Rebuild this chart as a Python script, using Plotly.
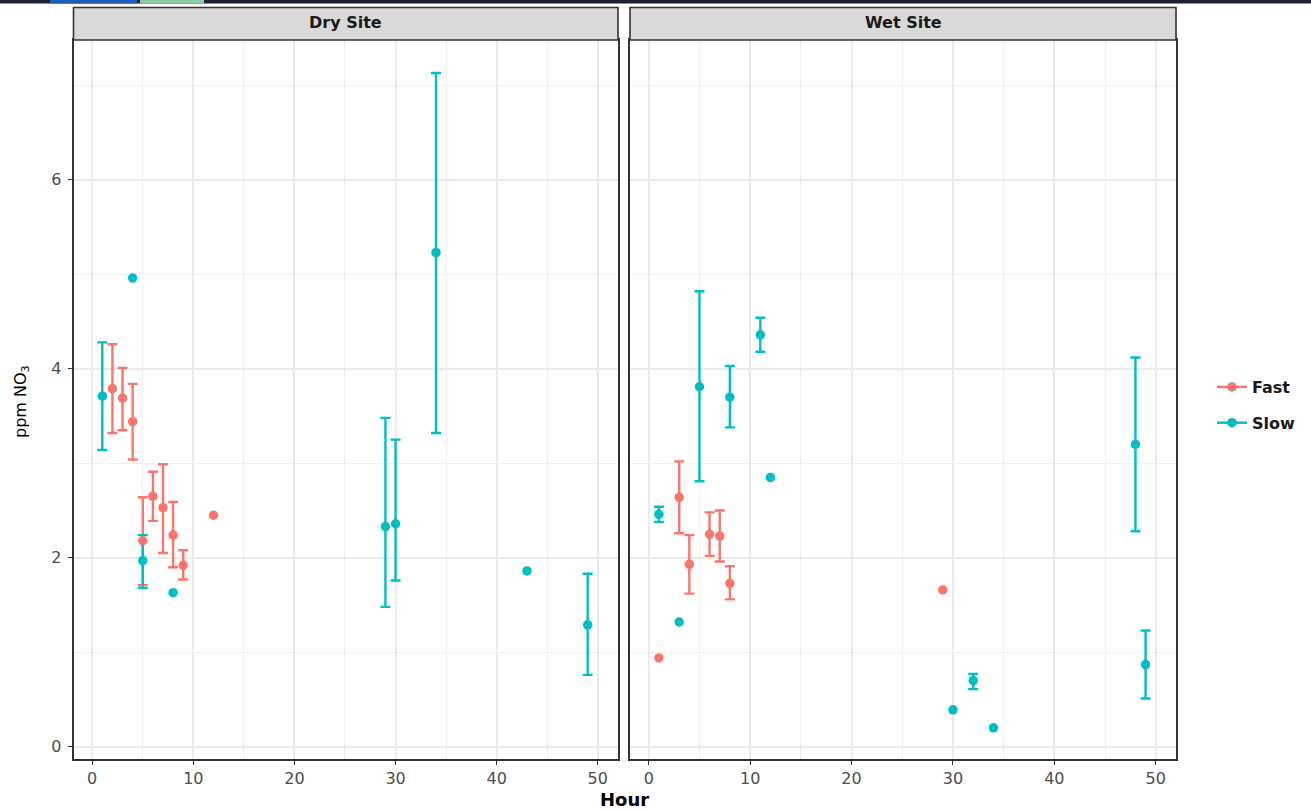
import plotly.graph_objects as go

# ---------------- data ----------------
dry_fast_hour = [2, 3, 4, 5, 6, 7, 8, 9, 12]
dry_fast_mean = [3.79, 3.69, 3.44, 2.18, 2.65, 2.53, 2.24, 1.92, 2.45]
dry_fast_upper = [4.26, 4.01, 3.84, 2.64, 2.91, 2.99, 2.59, 2.08, None]
dry_fast_lower = [3.32, 3.35, 3.04, 1.71, 2.39, 2.05, 1.90, 1.77, None]

dry_slow_hour = [1, 4, 5, 8, 29, 30, 34, 43, 49]
dry_slow_mean = [3.71, 4.96, 1.97, 1.63, 2.33, 2.36, 5.23, 1.86, 1.29]
dry_slow_upper = [4.28, None, 2.24, None, 3.48, 3.25, 7.13, None, 1.83]
dry_slow_lower = [3.14, None, 1.68, None, 1.48, 1.76, 3.32, None, 0.76]

wet_fast_hour = [1, 3, 4, 6, 7, 8, 29]
wet_fast_mean = [0.94, 2.64, 1.93, 2.25, 2.23, 1.73, 1.66]
wet_fast_upper = [None, 3.02, 2.24, 2.48, 2.50, 1.91, None]
wet_fast_lower = [None, 2.26, 1.62, 2.02, 1.96, 1.56, None]

wet_slow_hour = [1, 3, 5, 8, 11, 12, 30, 32, 34, 48, 49]
wet_slow_mean = [2.46, 1.32, 3.81, 3.70, 4.36, 2.85, 0.39, 0.70, 0.20, 3.20, 0.87]
wet_slow_upper = [2.54, None, 4.82, 4.03, 4.54, None, None, 0.77, None, 4.12, 1.23]
wet_slow_lower = [2.38, None, 2.81, 3.38, 4.18, None, None, 0.61, None, 2.28, 0.51]

panels = ["Dry Site", "Wet Site"]
series_names = ["Fast", "Slow"]
x_ticks = [0, 10, 20, 30, 40, 50]
y_ticks = [0, 2, 4, 6]

colors = {"Fast": "#F8766D", "Slow": "#00BFC4"}

data = {
    ("Dry Site", "Fast"): (dry_fast_hour, dry_fast_mean, dry_fast_upper, dry_fast_lower),
    ("Dry Site", "Slow"): (dry_slow_hour, dry_slow_mean, dry_slow_upper, dry_slow_lower),
    ("Wet Site", "Fast"): (wet_fast_hour, wet_fast_mean, wet_fast_upper, wet_fast_lower),
    ("Wet Site", "Slow"): (wet_slow_hour, wet_slow_mean, wet_slow_upper, wet_slow_lower),
}

W, H = 1311, 811
FONT = "DejaVu Sans"


def px(x):
    return x / W


def py(y):
    return 1 - y / H


fig = go.Figure()

for pi, panel in enumerate(panels):
    xa = "x" if pi == 0 else "x2"
    ya = "y" if pi == 0 else "y2"
    for s in series_names:
        hr, mn, up, lo = data[(panel, s)]
        ex, ey, eu, el = [], [], [], []
        for h, m, u, l in zip(hr, mn, up, lo):
            if u is not None and l is not None:
                ex.append(h); ey.append(m); eu.append(u - m); el.append(m - l)
        fig.add_trace(go.Scatter(
            x=ex, y=ey, xaxis=xa, yaxis=ya, mode="markers",
            marker=dict(size=2, opacity=0, color=colors[s]),
            error_y=dict(type="data", array=eu, arrayminus=el, symmetric=False,
                         color=colors[s], thickness=2.4, width=5),
            showlegend=False, hoverinfo="skip"))
    for s in series_names:
        hr, mn, up, lo = data[(panel, s)]
        fig.add_trace(go.Scatter(
            x=hr, y=mn, xaxis=xa, yaxis=ya, mode="markers",
            marker=dict(size=9.5, color=colors[s], line=dict(width=0)),
            showlegend=False, name=s))

# legend entries (line + point like ggplot)
for s in series_names:
    fig.add_trace(go.Scatter(
        x=[None], y=[None], xaxis="x2", yaxis="y2", mode="lines+markers",
        line=dict(color=colors[s], width=2.4), marker=dict(size=9.5, color=colors[s]),
        name=s, legendgroup=s, showlegend=True))

PANEL_TOP, PANEL_BOTTOM = 40, 759
x_dom1 = [px(73.5), px(618)]
x_dom2 = [px(630), px(1176)]
y_dom = [py(PANEL_BOTTOM), py(PANEL_TOP)]
xrange_ = [-1.85, 52.0]
yrange_ = [-0.13, 7.48]

axis_common = dict(
    showline=True, linecolor="#333333", linewidth=1.6, mirror=True,
    showgrid=True, gridcolor="#EBEBEB", gridwidth=1.6,
    zeroline=False, ticks="outside", ticklen=4, tickwidth=1.4, tickcolor="#333333",
    tickfont=dict(family=FONT, size=16, color="#4D4D4D"),
)

fig.update_layout(
    width=W, height=H,
    margin=dict(l=0, r=0, t=0, b=0),
    paper_bgcolor="white", plot_bgcolor="white",
    xaxis=dict(domain=x_dom1, range=xrange_, tickvals=x_ticks, anchor="y",
               minor=dict(dtick=5, tick0=0, showgrid=True, gridcolor="#EFEFEF", gridwidth=1),
               **axis_common),
    xaxis2=dict(domain=x_dom2, range=xrange_, tickvals=x_ticks, anchor="y2",
                minor=dict(dtick=5, tick0=0, showgrid=True, gridcolor="#EFEFEF", gridwidth=1),
                **axis_common),
    yaxis=dict(domain=y_dom, range=yrange_, tickvals=y_ticks, anchor="x",
               ticklabelstandoff=3,
               minor=dict(dtick=1, tick0=0, showgrid=True, gridcolor="#EFEFEF", gridwidth=1),
               **axis_common),
    yaxis2=dict(domain=y_dom, range=yrange_, tickvals=y_ticks, anchor="x2",
                showticklabels=False,
                minor=dict(dtick=1, tick0=0, showgrid=True, gridcolor="#EFEFEF", gridwidth=1),
                **{**axis_common, "ticks": ""}),
    legend=dict(x=px(1212), y=py(405), xanchor="left", yanchor="middle",
                font=dict(family=FONT, size=16, color="#1A1A1A", weight="bold"),
                bgcolor="rgba(0,0,0,0)", itemwidth=30, tracegroupgap=12,
                traceorder="grouped"),
    font=dict(family=FONT),
)

shapes = []
annotations = []
for (x0, x1), label in zip([(73.5, 618), (630, 1176)], panels):
    shapes.append(dict(type="rect", xref="paper", yref="paper",
                       x0=px(x0), x1=px(x1), y0=py(PANEL_TOP), y1=py(7.5),
                       fillcolor="#D9D9D9", line=dict(color="#333333", width=1.6)))
    annotations.append(dict(text=label, xref="paper", yref="paper",
                            x=px((x0 + x1) / 2), y=py(23), showarrow=False,
                            xanchor="center", yanchor="middle",
                            font=dict(family=FONT, size=16, color="#1A1A1A", weight="bold")))
# screenshot top bar
shapes.append(dict(type="rect", xref="paper", yref="paper", x0=0, x1=1, y0=py(3.5), y1=1,
                   fillcolor="#1B2131", line=dict(width=0)))
shapes.append(dict(type="rect", xref="paper", yref="paper", x0=px(50), x1=px(137), y0=py(3.5), y1=1,
                   fillcolor="#1F5BB8", line=dict(width=0)))
shapes.append(dict(type="rect", xref="paper", yref="paper", x0=px(140), x1=px(204), y0=py(3.5), y1=1,
                   fillcolor="#8CCBA3", line=dict(width=0)))

annotations.append(dict(text="Hour", xref="paper", yref="paper", x=px(624), y=py(799),
                        showarrow=False, xanchor="center", yanchor="middle",
                        font=dict(family=FONT, size=18, color="#000000", weight="bold")))
annotations.append(dict(text="ppm NO<sub>3</sub>", xref="paper", yref="paper", x=px(21), y=py(402),
                        showarrow=False, xanchor="center", yanchor="middle", textangle=-90,
                        font=dict(family=FONT, size=16, color="#000000")))

fig.update_layout(shapes=shapes, annotations=annotations)

fig.write_html("out.html",
               config={"displayModeBar": False},
               post_script="document.body.style.margin='0';document.body.style.overflow='hidden';")
